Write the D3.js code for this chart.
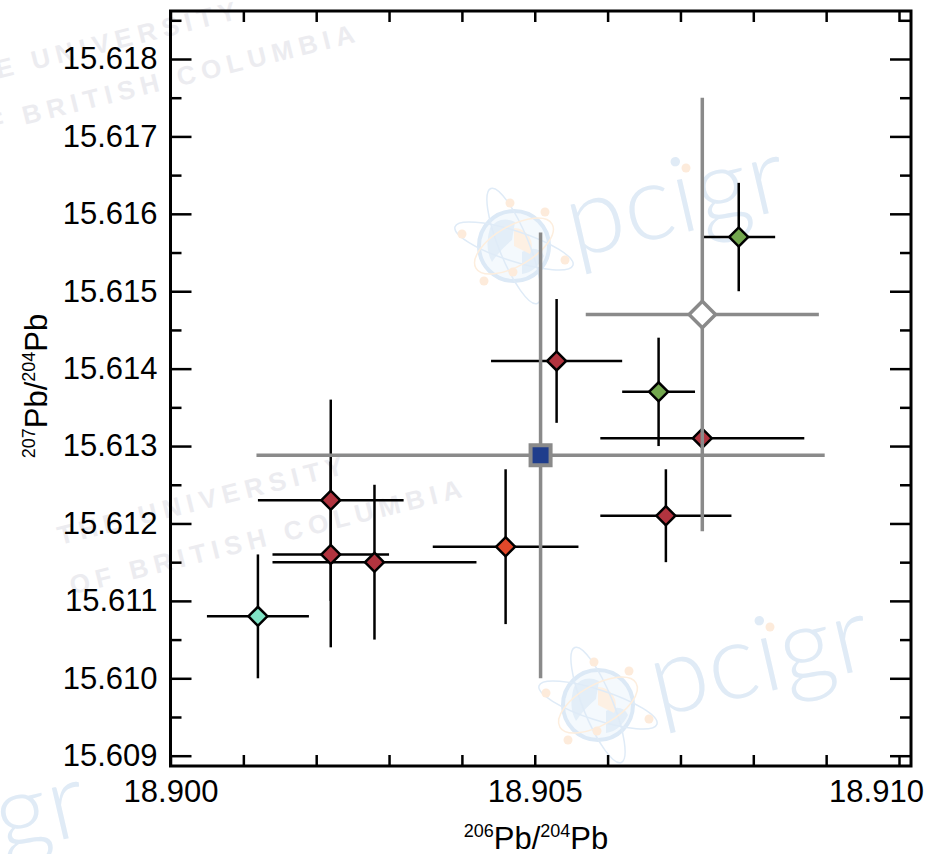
<!DOCTYPE html>
<meta charset="utf-8" />

<!-- Load d3.js -->
<script src="https://d3js.org/d3.v7.min.js"></script>

<style>
  body {
    margin: 0;
    background: #fff;
  }
  text {
    font-family: "Liberation Sans", Arial, Helvetica, sans-serif;
  }
</style>

<div id="my_dataviz"></div>

<script>
  // sample analyses (diamonds with black error bars)
  const sampleX = [18.9012, 18.9022, 18.9022, 18.9028, 18.9046, 18.9053, 18.9067, 18.9068, 18.9073, 18.9078];
  const sampleY = [15.6108, 15.6123, 15.6116, 15.6115, 15.6117, 15.6141, 15.6137, 15.6121, 15.6131, 15.6157];
  const sampleXErr = [0.0007, 0.001, 0.0008, 0.0014, 0.001, 0.0009, 0.0005, 0.0009, 0.0014, 0.0005];
  const sampleYErr = [0.0008, 0.0013, 0.0012, 0.001, 0.001, 0.0008, 0.0007, 0.0006, 0.001, 0.0007];
  const sampleColor = ["#80e4c6", "#b1343f", "#b1343f", "#b1343f", "#e1482a", "#b1343f", "#73a74e", "#b1343f", "#b1343f", "#73a74e"];

  // reference values (grey error bars)
  const refX = [18.90508, 18.9073];
  const refY = [15.61288, 15.6147];
  const refXErr = [0.0039, 0.0016];
  const refYErr = [0.00288, 0.0028];
  const refFill = ["#1f3d8c", "#ffffff"];
  const refShape = ["square", "diamond"];

  // ticks
  const xTicks = [18.9, 18.901, 18.902, 18.903, 18.904, 18.905, 18.906, 18.907, 18.908, 18.909, 18.91];
  const xLabels = [18.9, 18.905, 18.91];
  const yMajor = [15.609, 15.61, 15.611, 15.612, 15.613, 15.614, 15.615, 15.616, 15.617, 15.618];
  const yMinor = [15.6095, 15.6105, 15.6115, 15.6125, 15.6135, 15.6145, 15.6155, 15.6165, 15.6175, 15.6185];

  // frame of the plot
  var frame = { left: 170.5, right: 911, top: 11, bottom: 766 };
  var width = 945,
    height = 854;

  var svg = d3
    .select("#my_dataviz")
    .append("svg")
    .attr("width", width)
    .attr("height", height);

  var x = d3.scaleLinear().domain([18.9, 18.91]).range([170.5, 899]);
  var y = d3.scaleLinear().domain([15.609, 15.618]).range([755.7, 59]);

  // ---- faint watermarks ----
  var wm = svg.append("g").attr("class", "watermark");

  function ubcText(x0, y0) {
    var g = wm
      .append("g")
      .attr("transform", "translate(" + x0 + "," + y0 + ") rotate(-14)")
      .style("font-family", "'Open Sans', sans-serif")
      .style("font-weight", 600)
      .style("font-size", "26px")
      .style("letter-spacing", "6px")
      .attr("fill", "#ececf0");
    g.append("text").attr("x", 0).attr("y", 0).text("THE UNIVERSITY");
    g.append("text").attr("x", 0).attr("y", 51).text("OF BRITISH COLUMBIA");
  }
  ubcText(-47, 90);
  ubcText(60, 545);

  function pcigr(tx, ty) {
    var g = wm.append("g").attr("transform", "translate(" + tx + "," + ty + ")");
    // globe
    g.append("circle")
      .attr("cx", 514)
      .attr("cy", 246)
      .attr("r", 35)
      .attr("fill", "#f4f9fd")
      .attr("stroke", "#dce9f6")
      .attr("stroke-width", 4);
    g.append("path")
      .attr("d", "M490,228 Q500,215 515,222 L512,240 Q500,250 492,262 Q484,248 490,228 Z M522,252 Q538,244 544,256 Q536,272 522,274 Z")
      .attr("fill", "#e3eef8");
    g.append("path")
      .attr("d", "M514,246 L514,228 A18,18 0 0 1 530,254 Z")
      .attr("fill", "#fdf0e3");
    g.append("ellipse")
      .attr("cx", 514)
      .attr("cy", 246)
      .attr("rx", 62)
      .attr("ry", 15)
      .attr("transform", "rotate(18,514,246)")
      .attr("fill", "none")
      .attr("stroke", "#dfebf7")
      .attr("stroke-width", 1.5);
    g.append("ellipse")
      .attr("cx", 514)
      .attr("cy", 246)
      .attr("rx", 15)
      .attr("ry", 62)
      .attr("transform", "rotate(-22,514,246)")
      .attr("fill", "none")
      .attr("stroke", "#dfebf7")
      .attr("stroke-width", 1.5);
    g.append("ellipse")
      .attr("cx", 514)
      .attr("cy", 246)
      .attr("rx", 44)
      .attr("ry", 20)
      .attr("transform", "rotate(-30,514,246)")
      .attr("fill", "none")
      .attr("stroke", "#fdeede")
      .attr("stroke-width", 1.5);
    [[462, 234], [510, 203], [545, 212], [565, 260], [513, 272], [484, 281], [686, 168]].forEach(function (p) {
      g.append("circle").attr("cx", p[0]).attr("cy", p[1]).attr("r", 4.5).attr("fill", "#fdebdb");
    });
    g.append("text")
      .attr("transform", "translate(574,258) rotate(-13)")
      .style("font-family", "Lato, 'Open Sans', sans-serif")
      .style("font-weight", 300)
      .style("font-size", "106px")
      .attr("fill", "#e0ebf6")
      .text("pcigr");
  }
  pcigr(0, 0);
  pcigr(84, 459);
  pcigr(-700, 625);

  // ---- axes ----
  function styleAxis(g) {
    g.select(".domain").remove();
    g.selectAll(".tick line").attr("stroke", "#000").attr("stroke-width", 2.5);
    g.selectAll(".tick text").attr("fill", "#000").style("font-size", "31px");
  }

  // bottom
  svg
    .append("g")
    .attr("transform", "translate(0," + frame.bottom + ")")
    .call(d3.axisBottom(x).tickValues(xTicks).tickSize(-11).tickFormat(""))
    .call(styleAxis);
  var xLab = svg
    .append("g")
    .attr("transform", "translate(0," + frame.bottom + ")")
    .call(d3.axisBottom(x).tickValues(xLabels).tickSize(0).tickPadding(14).tickFormat(d3.format(".3f")))
    .call(styleAxis);
  // last label is pulled back inside the window
  xLab
    .selectAll(".tick text")
    .filter(function (d) {
      return d > 18.909;
    })
    .attr("x", -23);

  // top
  svg
    .append("g")
    .attr("transform", "translate(0," + frame.top + ")")
    .call(d3.axisTop(x).tickValues(xTicks).tickSize(-11).tickFormat(""))
    .call(styleAxis);

  // left
  svg
    .append("g")
    .attr("transform", "translate(" + frame.left + ",0)")
    .call(d3.axisLeft(y).tickValues(yMajor).tickSize(-21).tickPadding(13).tickFormat(d3.format(".3f")))
    .call(styleAxis);
  svg
    .append("g")
    .attr("transform", "translate(" + frame.left + ",0)")
    .call(d3.axisLeft(y).tickValues(yMinor).tickSize(-11).tickFormat(""))
    .call(styleAxis);

  // right
  svg
    .append("g")
    .attr("transform", "translate(" + frame.right + ",0)")
    .call(d3.axisRight(y).tickValues(yMajor).tickSize(-21).tickFormat(""))
    .call(styleAxis);
  svg
    .append("g")
    .attr("transform", "translate(" + frame.right + ",0)")
    .call(d3.axisRight(y).tickValues(yMinor).tickSize(-11).tickFormat(""))
    .call(styleAxis);

  // frame
  svg
    .append("rect")
    .attr("x", frame.left)
    .attr("y", frame.top)
    .attr("width", frame.right - frame.left)
    .attr("height", frame.bottom - frame.top)
    .attr("fill", "none")
    .attr("stroke", "#000")
    .attr("stroke-width", 3);

  // axis titles
  var xt = svg
    .append("text")
    .attr("x", 536)
    .attr("y", 849)
    .attr("text-anchor", "middle")
    .style("font-size", "31px")
    .attr("fill", "#000");
  xt.append("tspan").attr("dy", -12).style("font-size", "18px").text("206");
  xt.append("tspan").attr("dy", 12).text("Pb/");
  xt.append("tspan").attr("dy", -12).style("font-size", "18px").text("204");
  xt.append("tspan").attr("dy", 12).text("Pb");

  var yt = svg
    .append("text")
    .attr("transform", "translate(47,386) rotate(-90)")
    .attr("text-anchor", "middle")
    .style("font-size", "31px")
    .attr("fill", "#000");
  yt.append("tspan").attr("dy", -12).style("font-size", "18px").text("207");
  yt.append("tspan").attr("dy", 12).text("Pb/");
  yt.append("tspan").attr("dy", -12).style("font-size", "18px").text("204");
  yt.append("tspan").attr("dy", 12).text("Pb");

  // ---- data ----
  var samples = d3.range(sampleX.length).map(function (i) {
    return { x: sampleX[i], y: sampleY[i], ex: sampleXErr[i], ey: sampleYErr[i], c: sampleColor[i] };
  });
  var refs = d3.range(refX.length).map(function (i) {
    return { x: refX[i], y: refY[i], ex: refXErr[i], ey: refYErr[i], fill: refFill[i], shape: refShape[i] };
  });

  function errorBars(g, data, color, w) {
    g.selectAll(".ex")
      .data(data)
      .enter()
      .append("line")
      .attr("x1", function (d) { return x(d.x - d.ex); })
      .attr("x2", function (d) { return x(d.x + d.ex); })
      .attr("y1", function (d) { return y(d.y); })
      .attr("y2", function (d) { return y(d.y); })
      .attr("stroke", color)
      .attr("stroke-width", w);
    g.selectAll(".ey")
      .data(data)
      .enter()
      .append("line")
      .attr("x1", function (d) { return x(d.x); })
      .attr("x2", function (d) { return x(d.x); })
      .attr("y1", function (d) { return y(d.y - d.ey); })
      .attr("y2", function (d) { return y(d.y + d.ey); })
      .attr("stroke", color)
      .attr("stroke-width", w);
  }

  errorBars(svg.append("g"), samples, "#000", 2.5);

  svg
    .append("g")
    .selectAll("path")
    .data(samples)
    .enter()
    .append("path")
    .attr("d", d3.symbol().type(d3.symbolSquare).size(180))
    .attr("transform", function (d) {
      return "translate(" + x(d.x) + "," + y(d.y) + ") rotate(45)";
    })
    .attr("fill", function (d) { return d.c; })
    .attr("stroke", "#000")
    .attr("stroke-width", 2.5);

  errorBars(svg.append("g"), refs, "#8a8a8a", 3.5);

  svg
    .append("g")
    .selectAll("path")
    .data(refs)
    .enter()
    .append("path")
    .attr("d", function (d) {
      return d3.symbol().type(d3.symbolSquare).size(d.shape === "square" ? 400 : 350)();
    })
    .attr("transform", function (d) {
      return "translate(" + x(d.x) + "," + y(d.y) + ")" + (d.shape === "diamond" ? " rotate(45)" : "");
    })
    .attr("fill", function (d) { return d.fill; })
    .attr("stroke", "#8a8a8a")
    .attr("stroke-width", function (d) { return d.shape === "square" ? 4 : 3.5; });
</script>
